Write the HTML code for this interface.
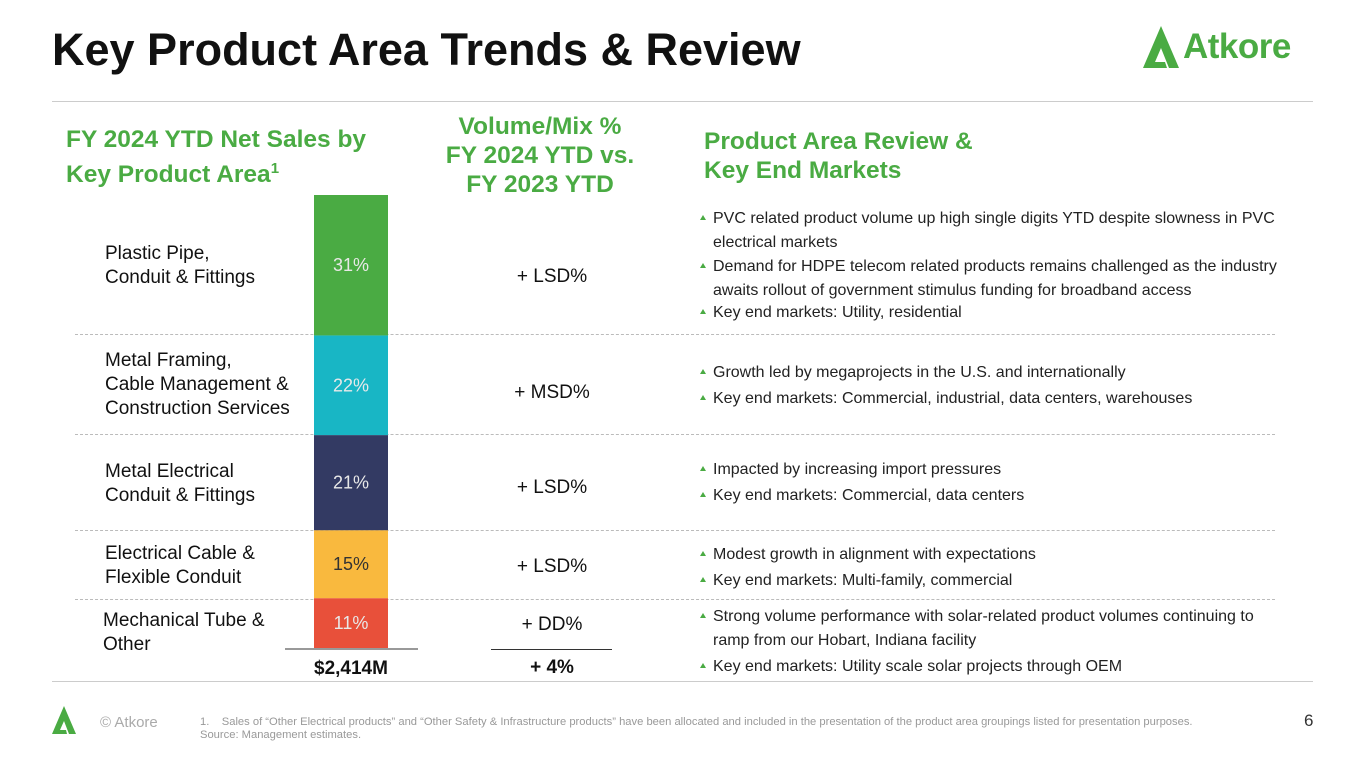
<!DOCTYPE html>
<html><head><meta charset="utf-8"><style>
body{margin:0;width:1365px;height:768px;position:relative;background:#fff;font-family:"Liberation Sans",sans-serif;overflow:hidden;color:#222}
.a{position:absolute}
.h{color:#4aab43;font-weight:bold;font-size:24.5px;line-height:29px}
.lab{font-size:19px;line-height:24px;color:#111}
.vm{font-size:19px;color:#111;text-align:center;width:160px}
.b{font-size:16px;line-height:24px;color:#222;left:713px;width:585px}
.b .t{position:absolute;left:-13px;top:8px;width:0;height:0;border-left:3px solid transparent;border-right:3px solid transparent;border-bottom:5px solid #4aab43}
.dash{left:75px;width:1200px;border-top:1px dashed #bbb;height:0}
</style></head><body>
<div class="a" style="left:52px;top:24px;font-size:45px;font-weight:bold;color:#111">Key Product Area Trends &amp; Review</div>
<div class="a" style="left:1143px;top:24px;width:175px;height:46px">
<svg width="50" height="46" viewBox="0 0 50 46"><polygon points="0,44 18,2 36,44 26,44 18,24 12,38 22,38 24,44" fill="#4aab43"/></svg>
<span style="position:absolute;left:40px;top:3px;font-size:35px;font-weight:bold;color:#4aab43;letter-spacing:-0.5px">Atkore</span></div>
<div class="a" style="left:52px;top:101px;width:1261px;height:1px;background:#ccc"></div>
<div class="a h" style="left:66px;top:125px">FY 2024 YTD Net Sales by<br>Key Product Area<sup style="font-size:15px">1</sup></div>
<div class="a h" style="left:420px;top:112px;width:240px;text-align:center">Volume/Mix %<br>FY 2024 YTD vs.<br>FY 2023 YTD</div>
<div class="a h" style="left:704px;top:127px">Product Area Review &amp;<br>Key End Markets</div>

<div class="a dash" style="top:334px"></div>
<div class="a dash" style="top:434px"></div>
<div class="a dash" style="top:530px"></div>
<div class="a dash" style="top:599px"></div>

<div class="a lab" style="left:105px;top:242px">Plastic Pipe,<br>Conduit &amp; Fittings</div>
<div class="a lab" style="left:105px;top:349px">Metal Framing,<br>Cable Management &amp;<br>Construction Services</div>
<div class="a lab" style="left:105px;top:460px">Metal Electrical<br>Conduit &amp; Fittings</div>
<div class="a lab" style="left:105px;top:542px">Electrical Cable &amp;<br>Flexible Conduit</div>
<div class="a lab" style="left:103px;top:609px">Mechanical Tube &amp;<br>Other</div>

<svg class="a" id="chart" style="left:0;top:0" width="700" height="700"></svg>

<div class="a vm" style="left:472px;top:266px">+ LSD%</div>
<div class="a vm" style="left:472px;top:382px">+ MSD%</div>
<div class="a vm" style="left:472px;top:477px">+ LSD%</div>
<div class="a vm" style="left:472px;top:556px">+ LSD%</div>
<div class="a vm" style="left:472px;top:614px">+ DD%</div>
<div class="a" style="left:491px;top:649px;width:121px;height:1px;background:#333"></div>
<div class="a vm" style="left:472px;top:657px;font-weight:bold">+ 4%</div>

<div class="a b" style="top:207px"><span class="t"></span>PVC related product volume up high single digits YTD despite slowness in PVC electrical markets</div>
<div class="a b" style="top:255px"><span class="t"></span>Demand for HDPE telecom related products remains challenged as the industry awaits rollout of government stimulus funding for broadband access</div>
<div class="a b" style="top:301px"><span class="t"></span>Key end markets: Utility, residential</div>
<div class="a b" style="top:361px"><span class="t"></span>Growth led by megaprojects in the U.S. and internationally</div>
<div class="a b" style="top:387px"><span class="t"></span>Key end markets: Commercial, industrial, data centers, warehouses</div>
<div class="a b" style="top:458px"><span class="t"></span>Impacted by increasing import pressures</div>
<div class="a b" style="top:484px"><span class="t"></span>Key end markets: Commercial, data centers</div>
<div class="a b" style="top:543px"><span class="t"></span>Modest growth in alignment with expectations</div>
<div class="a b" style="top:569px"><span class="t"></span>Key end markets: Multi-family, commercial</div>
<div class="a b" style="top:605px;width:565px"><span class="t"></span>Strong volume performance with solar-related product volumes continuing to ramp from our Hobart, Indiana facility</div>
<div class="a b" style="top:655px"><span class="t"></span>Key end markets: Utility scale solar projects through OEM</div>

<div class="a" style="left:52px;top:681px;width:1261px;height:1px;background:#ccc"></div>
<svg class="a" style="left:52px;top:705px" width="36" height="30" viewBox="0 0 36 30"><polygon points="0,29 12,1 24,29 17,29 12,16 8,25 14,25 15,29" fill="#4aab43"/></svg>
<div class="a" style="left:100px;top:714px;font-size:15px;color:#aaa">© Atkore</div>
<div class="a" style="left:200px;top:716px;font-size:11.2px;line-height:13px;color:#999">1.&nbsp;&nbsp;&nbsp;&nbsp;Sales of “Other Electrical products” and “Other Safety &amp; Infrastructure products” have been allocated and included in the presentation of the product area groupings listed for presentation purposes.<br>Source: Management estimates.</div>
<div class="a" style="left:1304px;top:711px;font-size:17px;color:#333">6</div>

<script>
const categories=["Mechanical Tube & Other","Electrical Cable & Flexible Conduit","Metal Electrical Conduit & Fittings","Metal Framing","Plastic Pipe"];
const shares=[11,15,21,22,31];
const colors=["#e8503a","#f9b93e","#333a63","#18b6c5","#4aab43"];
const totalLabel=["$2,414M"];
const svg=document.getElementById('chart');
const NS="http://www.w3.org/2000/svg";
const base=648, pxPer=4.53, bx=314, bw=74;
const y=v=>base-v*pxPer;
let cum=0;
shares.forEach((s,i)=>{
  const r=document.createElementNS(NS,'rect');
  r.setAttribute('x',bx);r.setAttribute('y',y(cum+s));r.setAttribute('width',bw);r.setAttribute('height',s*pxPer);r.setAttribute('fill',colors[i]);
  
  
  svg.appendChild(r);
  const t=document.createElementNS(NS,'text');
  t.setAttribute('x',bx+bw/2);t.setAttribute('y',y(cum+s/2)+6);t.setAttribute('text-anchor','middle');
  t.setAttribute('font-size','18');t.setAttribute('fill',i==1?'#333':'#e8e8e8');t.textContent=s+'%';
  
  
  svg.appendChild(t);
  cum+=s;
});
const ln=document.createElementNS(NS,'line');
ln.setAttribute('x1',285);ln.setAttribute('x2',418);ln.setAttribute('y1',base+1);ln.setAttribute('y2',base+1);ln.setAttribute('stroke','#333');


svg.appendChild(ln);
const tt=document.createElementNS(NS,'text');
tt.setAttribute('x',bx+bw/2);tt.setAttribute('y',674);tt.setAttribute('text-anchor','middle');tt.setAttribute('font-size','19');tt.setAttribute('font-weight','bold');tt.setAttribute('fill','#111');
tt.textContent=totalLabel[0];


svg.appendChild(tt);
</script>
</body></html>
